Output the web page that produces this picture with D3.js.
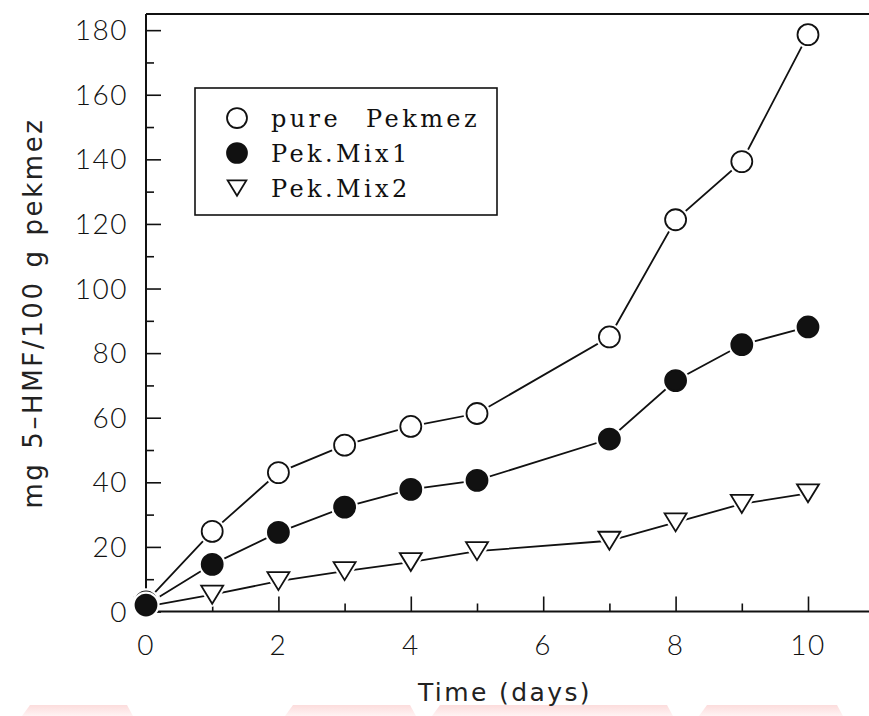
<!DOCTYPE html>
<html>
<head>
<meta charset="utf-8">
<script src="https://cdn.jsdelivr.net/npm/d3@7"></script>
<style>
  html, body { margin: 0; padding: 0; background: #fff; }
  svg { display: block; }
</style>
</head>
<body>
<svg id="chart" width="869" height="716"></svg>
<script>
// HMF formation in pekmez samples over storage time
const days = [0, 1, 2, 3, 4, 5, 7, 8, 9, 10];
const purePekmez = [3, 24.8, 43, 51.5, 57.3, 61.3, 85, 121.3, 139.3, 178.6];
const pekMix1    = [2, 14.6, 24.5, 32.3, 37.8, 40.6, 53.4, 71.5, 82.6, 88.1];
const pekMix2    = [1.5, 5.2, 9.4, 12.5, 15.3, 18.7, 21.9, 27.6, 33.3, 36.6];
const seriesNames = ["pure Pekmez", "Pek.Mix1", "Pek.Mix2"];
const xTicks = [0, 2, 4, 6, 8, 10];
const yTicks = [0, 20, 40, 60, 80, 100, 120, 140, 160, 180];

const svg = d3.select("#chart");
const W = 869, H = 716;

const x = d3.scaleLinear().domain([0, 11]).range([146, 874.2]);
const y = d3.scaleLinear().domain([0, 185]).range([611.5, 14]);

// faint pink band along the bottom edge of the page
const defs = svg.append("defs");
const grad = defs.append("linearGradient").attr("id", "pinkfade")
  .attr("x1", 0).attr("y1", 0).attr("x2", 0).attr("y2", 1);
grad.append("stop").attr("offset", "0%").attr("stop-color", "#fbd3d3");
grad.append("stop").attr("offset", "100%").attr("stop-color", "#fff0f0");
const band = [[30, 127], [293, 410], [440, 667], [707, 837]];
svg.append("g").selectAll("path").data(band).join("path")
  .attr("d", d => `M${d[0]},705 L${d[1]},705 L${d[1] + 6},${H} L${d[0] - 8},${H} Z`)
  .attr("fill", "url(#pinkfade)").attr("opacity", 0.8);

const tickFont = "Lato, 'DejaVu Sans', sans-serif";
const titleFont = "'DejaVu Sans', 'Liberation Sans', sans-serif";
const ink = "#111";

// frame: left axis, bottom axis and top border (open on the right)
const frame = svg.append("g").attr("stroke", ink).attr("stroke-width", 2).attr("fill", "none");
frame.append("line").attr("x1", x(0)).attr("x2", x(0)).attr("y1", y(185)).attr("y2", y(0));
frame.append("line").attr("x1", x(0)).attr("x2", W).attr("y1", y(0)).attr("y2", y(0));
frame.append("line").attr("x1", x(0)).attr("x2", W).attr("y1", y(185)).attr("y2", y(185));

// inward ticks on the y axis (majors every 20, minors every 10)
const yAxis = d3.axisRight(y).tickValues(d3.range(0, 181, 10))
  .tickSize(0).tickFormat("");
const yG = svg.append("g").attr("transform", `translate(${x(0)},0)`).call(yAxis);
yG.select(".domain").remove();
yG.selectAll(".tick line")
  .attr("x2", d => d % 20 === 0 ? 15 : 8)
  .attr("stroke", ink).attr("stroke-width", 1.6);

svg.append("g").selectAll("text").data(yTicks).join("text")
  .attr("x", 128).attr("y", d => y(d)).attr("dy", "0.36em")
  .attr("text-anchor", "end")
  .attr("font-family", tickFont).attr("font-weight", 300).attr("font-size", 28)
  .attr("letter-spacing", 1.5).attr("fill", ink)
  .text(d => d);

// inward ticks on the x axis
const xAxis = d3.axisTop(x).tickValues(d3.range(0, 11, 1)).tickSize(0).tickFormat("");
const xG = svg.append("g").attr("transform", `translate(0,${y(0)})`).call(xAxis);
xG.select(".domain").remove();
xG.selectAll(".tick line")
  .attr("y2", d => d % 2 === 0 ? -15 : -8)
  .attr("stroke", ink).attr("stroke-width", 1.6);

svg.append("g").selectAll("text").data(xTicks).join("text")
  .attr("x", d => x(d)).attr("y", 655)
  .attr("text-anchor", "middle")
  .attr("font-family", tickFont).attr("font-weight", 300).attr("font-size", 28)
  .attr("letter-spacing", 1.5).attr("fill", ink)
  .text(d => d);

// axis titles
svg.append("text")
  .attr("x", 505).attr("y", 701)
  .attr("text-anchor", "middle")
  .attr("font-family", titleFont).attr("font-size", 25)
  .attr("letter-spacing", 2.4).attr("fill", "#222")
  .text("Time (days)");

svg.append("text")
  .attr("transform", "translate(42,313) rotate(-90)")
  .attr("text-anchor", "middle")
  .attr("font-family", titleFont).attr("font-size", 26)
  .attr("letter-spacing", 2.6).attr("word-spacing", 2).attr("fill", "#222")
  .text("mg 5\u2013HMF/100 g pekmez");

// marker shapes
const triDown = (cx, cy, w, h) =>
  `M${cx - w / 2},${cy - h / 2} L${cx + w / 2},${cy - h / 2} L${cx},${cy + h / 2} Z`;

function drawMarker(g, kind, cx, cy, scale = 1) {
  const r = 10.5 * scale;
  if (kind === 2) {
    g.append("path").attr("d", triDown(cx, cy, 22 * scale, 18 * scale))
      .attr("fill", "none").attr("stroke", "#fff").attr("stroke-width", 6)
      .attr("stroke-linejoin", "round");
    g.append("path").attr("d", triDown(cx, cy, 22 * scale, 18 * scale))
      .attr("fill", "#fff").attr("stroke", ink).attr("stroke-width", 1.8)
      .attr("stroke-linejoin", "miter");
  } else {
    g.append("circle").attr("cx", cx).attr("cy", cy).attr("r", r)
      .attr("fill", "none").attr("stroke", "#fff").attr("stroke-width", 6);
    g.append("circle").attr("cx", cx).attr("cy", cy).attr("r", r)
      .attr("fill", kind === 1 ? ink : "#fff")
      .attr("stroke", ink).attr("stroke-width", 1.8);
  }
}

const allSeries = [purePekmez, pekMix1, pekMix2];
const line = d3.line().x(d => x(d[0])).y(d => y(d[1]));

allSeries.forEach(vals => {
  const pts = days.map((d, i) => [d, vals[i]]);
  svg.append("path").datum(pts).attr("d", line)
    .attr("fill", "none").attr("stroke", ink).attr("stroke-width", 1.8);
});
// markers on top of all lines; filled circles last
[2, 0, 1].forEach(k => {
  const g = svg.append("g");
  days.forEach((d, i) => drawMarker(g, k, x(d), y(allSeries[k][i])));
});

// legend
const lg = svg.append("g");
lg.append("rect").attr("x", 195).attr("y", 88).attr("width", 302).attr("height", 127)
  .attr("fill", "#fff").attr("stroke", ink).attr("stroke-width", 1.6);
const rowY = [118, 153, 188];
seriesNames.forEach((name, k) => {
  drawMarker(lg, k, 237, rowY[k], k === 2 ? 0.85 : 0.95);
  lg.append("text").attr("x", 271).attr("y", rowY[k]).attr("dy", "0.36em")
    .attr("font-family", "'DejaVu Serif', 'Liberation Serif', serif")
    .attr("font-size", 24).attr("letter-spacing", 3.4).attr("word-spacing", 14)
    .attr("fill", ink)
    .text(name);
});
</script>
</body>
</html>
